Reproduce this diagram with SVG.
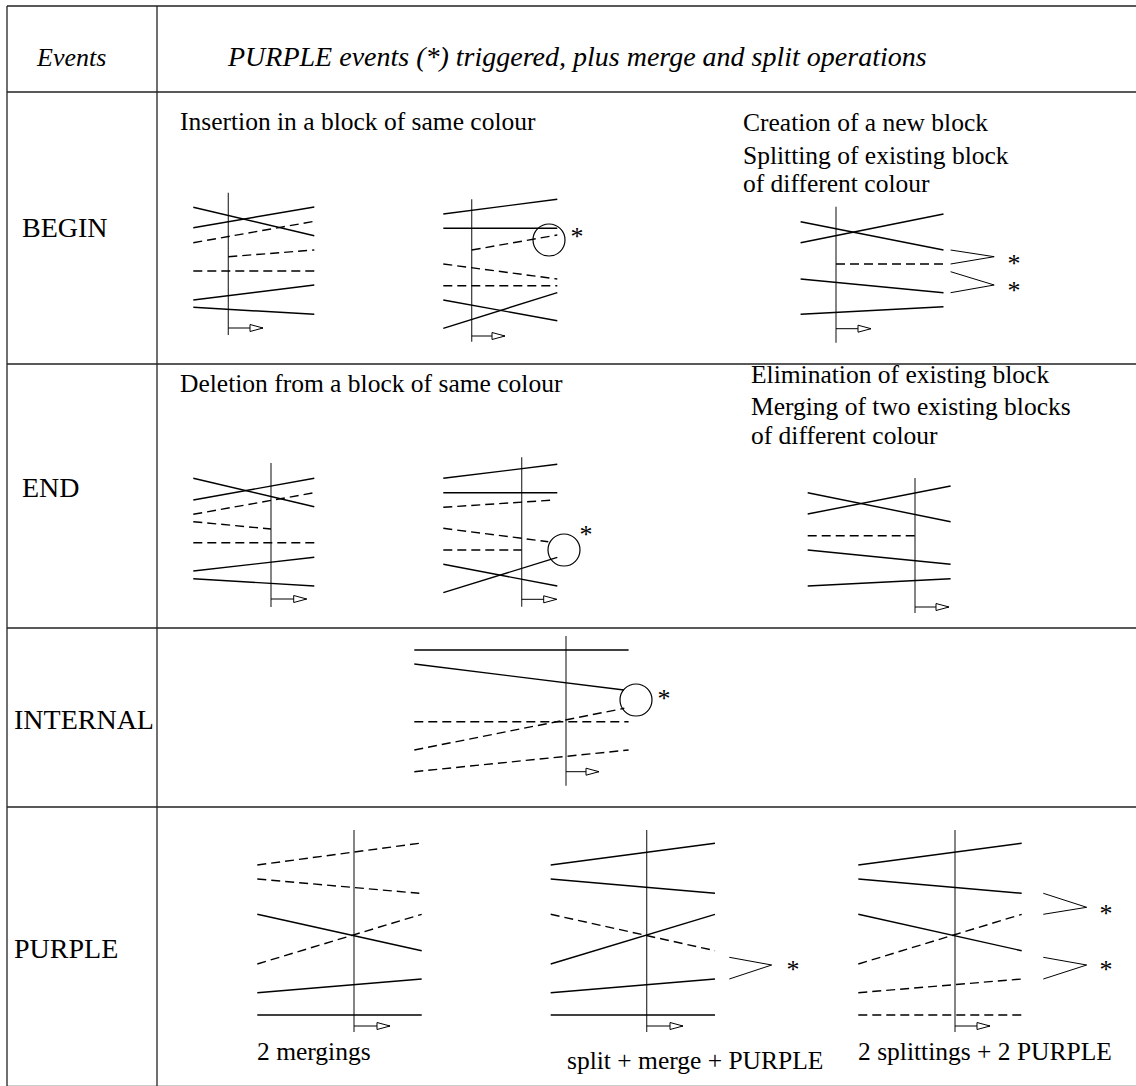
<svg xmlns="http://www.w3.org/2000/svg" width="1136" height="1086" viewBox="0 0 1136 1086">
<defs>
<marker id="arr" markerUnits="userSpaceOnUse" markerWidth="16" markerHeight="10" refX="13" refY="0" viewBox="-1 -5 16 10" orient="auto" overflow="visible">
<path d="M0,-3.5 L13,0 L0,3.5 Z" fill="#fff" stroke="#000" stroke-width="1"/>
</marker>
<style>
.grid{stroke:#222;stroke-width:1.3;fill:none}
.s{stroke:#000;stroke-width:1.4;fill:none}
.d{stroke:#000;stroke-width:1.4;stroke-dasharray:9 5;fill:none}
.v{stroke:#333;stroke-width:1.2;fill:none}
.a{stroke:#000;stroke-width:1;marker-end:url(#arr)}
.c{stroke:#000;stroke-width:1.2;fill:none}
.k{stroke:#000;stroke-width:1;fill:none}
text{font-family:"Liberation Serif","Times New Roman",serif;fill:#000}
.lbl{font-size:28px}
.body{font-size:25.5px}
.hdr{font-size:28px;font-style:italic}
.st{font-size:26px;text-anchor:middle}
</style>
</defs>
<rect width="1136" height="1086" fill="#fff"/>

<g id="table">
<line class="grid" x1="7" y1="6" x2="1136" y2="6"/>
<line class="grid" x1="7" y1="92" x2="1136" y2="92"/>
<line class="grid" x1="7" y1="364" x2="1136" y2="364"/>
<line class="grid" x1="7" y1="628" x2="1136" y2="628"/>
<line class="grid" x1="7" y1="807" x2="1136" y2="807"/>
<line x1="7" y1="1085.5" x2="1136" y2="1085.5" stroke="#ccc" stroke-width="1"/>
<line class="grid" x1="7" y1="6" x2="7" y2="1086"/>
<line class="grid" x1="157" y1="6" x2="157" y2="1086"/>
<text class="hdr" x="37" y="66" style="font-size:26px">Events</text>
<text class="hdr" x="228" y="66">PURPLE events (*) triggered, plus merge and split operations</text>
<text class="lbl" x="22" y="237">BEGIN</text>
<text class="lbl" x="22" y="497">END</text>
<text class="lbl" x="14" y="729">INTERNAL</text>
<text class="lbl" x="14" y="958">PURPLE</text>
</g>

<g id="begin-same">
<text class="body" x="180" y="130">Insertion in a block of same colour</text>
<line class="v" x1="228.3" y1="192.7" x2="228.3" y2="335"/>
<line class="a" x1="228.3" y1="328" x2="263" y2="328"/>
<line class="s" x1="193.3" y1="207.3" x2="314.3" y2="235.7"/>
<line class="s" x1="193.3" y1="227.7" x2="314.3" y2="207"/>
<line class="d" x1="193.3" y1="242.7" x2="314.3" y2="221.3"/>
<line class="d" x1="228.3" y1="256.7" x2="314.3" y2="250"/>
<line class="d" x1="193.3" y1="271" x2="314.3" y2="271"/>
<line class="s" x1="193.3" y1="300" x2="314.3" y2="285"/>
<line class="s" x1="193.3" y1="307.3" x2="314.3" y2="314.3"/>
</g>

<g id="begin-same-purple">
<line class="v" x1="471.7" y1="199.3" x2="471.7" y2="341.7"/>
<line class="a" x1="471.7" y1="336" x2="505" y2="336"/>
<line class="s" x1="443.3" y1="214" x2="557.3" y2="199.3"/>
<line class="s" x1="443.3" y1="228.3" x2="557.3" y2="228.3"/>
<line class="d" x1="471.7" y1="250" x2="557.3" y2="235"/>
<circle class="c" cx="549" cy="240" r="16"/>
<text class="st" x="577" y="245">*</text>
<line class="d" x1="443.3" y1="264" x2="557.3" y2="279"/>
<line class="d" x1="443.3" y1="285.7" x2="557.3" y2="285.7"/>
<line class="s" x1="443.3" y1="300" x2="557.3" y2="320.7"/>
<line class="s" x1="443.3" y1="328.3" x2="557.3" y2="292.7"/>
</g>

<g id="begin-new">
<text class="body" x="743" y="131">Creation of a new block</text>
<text class="body" x="743" y="164">Splitting of existing block</text>
<text class="body" x="743" y="192">of different colour</text>
<line class="v" x1="836" y1="206.7" x2="836" y2="342.7"/>
<line class="a" x1="836" y1="328.7" x2="871" y2="328.7"/>
<line class="s" x1="800.6" y1="221.7" x2="943.5" y2="250"/>
<line class="s" x1="800.6" y1="242.7" x2="943.5" y2="214"/>
<line class="d" x1="836" y1="264" x2="943.5" y2="264"/>
<line class="s" x1="800.6" y1="279" x2="943.5" y2="292.7"/>
<line class="s" x1="800.6" y1="314.3" x2="943.5" y2="306.7"/>
<polyline class="k" points="950.6,250 994.2,256.7 950.6,264"/>
<polyline class="k" points="950.6,271.7 994.2,285 950.6,292.7"/>
<text class="st" x="1014" y="272">*</text>
<text class="st" x="1014" y="299">*</text>
</g>

<g id="end-same">
<text class="body" x="180" y="392">Deletion from a block of same colour</text>
<line class="v" x1="271" y1="463" x2="271" y2="607"/>
<line class="a" x1="271" y1="599" x2="306.7" y2="599"/>
<line class="s" x1="193.3" y1="478.3" x2="314.3" y2="506.7"/>
<line class="s" x1="193.3" y1="500" x2="314.3" y2="478.3"/>
<line class="d" x1="193.3" y1="514.3" x2="314.3" y2="492.7"/>
<line class="d" x1="193.3" y1="521.7" x2="271" y2="529"/>
<line class="d" x1="193.3" y1="542.7" x2="314.3" y2="542.7"/>
<line class="s" x1="193.3" y1="571" x2="314.3" y2="557.3"/>
<line class="s" x1="193.3" y1="578.7" x2="314.3" y2="586"/>
</g>

<g id="end-same-purple">
<line class="v" x1="521.7" y1="457.3" x2="521.7" y2="606.7"/>
<line class="a" x1="521.7" y1="599.3" x2="556.7" y2="599.3"/>
<line class="s" x1="443.3" y1="478.3" x2="557.3" y2="464.3"/>
<line class="s" x1="443.3" y1="492.7" x2="557.3" y2="492.7"/>
<line class="d" x1="443.3" y1="507.3" x2="555" y2="500"/>
<line class="d" x1="443.3" y1="528.3" x2="548.3" y2="541.7"/>
<line class="d" x1="443.3" y1="550" x2="521.7" y2="550"/>
<circle class="c" cx="564" cy="550" r="16"/>
<text class="st" x="586" y="543">*</text>
<line class="s" x1="443.3" y1="564.3" x2="557.3" y2="586"/>
<line class="s" x1="443.3" y1="592.7" x2="557.3" y2="557.3"/>
</g>

<g id="end-elim">
<text class="body" x="751" y="383">Elimination of existing block</text>
<text class="body" x="751" y="415">Merging of two existing blocks</text>
<text class="body" x="751" y="444">of different colour</text>
<line class="v" x1="915" y1="478" x2="915" y2="613"/>
<line class="a" x1="915" y1="607" x2="949" y2="607"/>
<line class="s" x1="807.7" y1="492.7" x2="950.6" y2="521.7"/>
<line class="s" x1="807.7" y1="514" x2="950.6" y2="486"/>
<line class="d" x1="807.7" y1="535.7" x2="915" y2="535.7"/>
<line class="s" x1="807.7" y1="550" x2="950.6" y2="564.3"/>
<line class="s" x1="807.7" y1="586" x2="950.6" y2="578.7"/>
</g>

<g id="internal">
<line class="v" x1="566" y1="636" x2="566" y2="785.7"/>
<line class="a" x1="566" y1="771.7" x2="599" y2="771.7"/>
<line class="s" x1="414.3" y1="650" x2="628.6" y2="650"/>
<line class="s" x1="414.3" y1="664" x2="624" y2="690"/>
<circle class="c" cx="636" cy="700" r="16"/>
<text class="st" x="664" y="707">*</text>
<line class="d" x1="414.3" y1="721.7" x2="628.6" y2="721.7"/>
<line class="d" x1="414.3" y1="750" x2="624.3" y2="708.3"/>
<line class="d" x1="414.3" y1="771.7" x2="628.6" y2="750"/>
</g>

<g id="purple-merge">
<line class="v" x1="354" y1="830" x2="354" y2="1032"/>
<line class="a" x1="354" y1="1026" x2="390" y2="1026"/>
<line class="d" x1="257.3" y1="865" x2="419.3" y2="843.3"/>
<line class="d" x1="257.3" y1="879" x2="419.3" y2="893.3"/>
<line class="s" x1="257.3" y1="914.3" x2="421.7" y2="950.7"/>
<line class="d" x1="257.3" y1="964" x2="421.7" y2="914.3"/>
<line class="s" x1="257.3" y1="992.7" x2="421.7" y2="979"/>
<line class="s" x1="257.3" y1="1015" x2="421.7" y2="1015"/>
<text class="body" x="257" y="1060">2 mergings</text>
</g>

<g id="purple-split-merge">
<line class="v" x1="646.7" y1="830" x2="646.7" y2="1032"/>
<line class="a" x1="646.7" y1="1026" x2="683" y2="1026"/>
<line class="s" x1="550.7" y1="865" x2="715" y2="843.3"/>
<line class="s" x1="550.7" y1="879" x2="715" y2="893.3"/>
<line class="d" x1="550.7" y1="914.3" x2="715" y2="950.7"/>
<line class="s" x1="550.7" y1="964" x2="715" y2="914.3"/>
<line class="s" x1="550.7" y1="992.7" x2="715" y2="979"/>
<line class="s" x1="550.7" y1="1015" x2="715" y2="1015"/>
<polyline class="k" points="729.3,957.3 771.7,965 729.3,979"/>
<text class="st" x="793" y="978">*</text>
<text class="body" x="567" y="1069">split + merge + PURPLE</text>
</g>

<g id="purple-split">
<line class="v" x1="955" y1="830" x2="955" y2="1032"/>
<line class="a" x1="955" y1="1026" x2="990" y2="1026"/>
<line class="s" x1="858.3" y1="865" x2="1021.7" y2="843.3"/>
<line class="s" x1="858.3" y1="879" x2="1021.7" y2="893.3"/>
<line class="s" x1="858.3" y1="914.3" x2="1021.7" y2="950.7"/>
<line class="d" x1="858.3" y1="964" x2="1021.7" y2="914.3"/>
<line class="d" x1="858.3" y1="992.7" x2="1021.7" y2="979"/>
<line class="d" x1="858.3" y1="1015" x2="1021.7" y2="1015"/>
<polyline class="k" points="1043.3,893.3 1086.7,907.3 1043.3,914.3"/>
<polyline class="k" points="1043.3,957.3 1086.7,965 1043.3,979"/>
<text class="st" x="1106" y="922">*</text>
<text class="st" x="1106" y="978">*</text>
<text class="body" x="858" y="1060">2 splittings + 2 PURPLE</text>
</g>
</svg>
